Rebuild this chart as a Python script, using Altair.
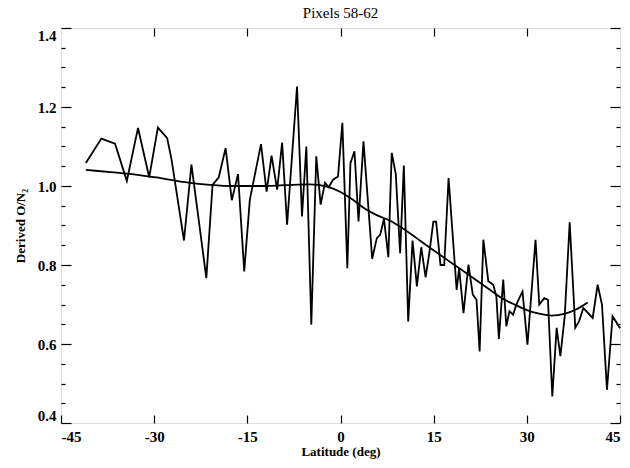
import altair as alt
import pandas as pd

# Observed (noisy) derived O/N2 along latitude
lat_obs = [-41.0, -38.5, -36.3, -34.4, -32.6, -30.8, -29.4, -27.9, -27.2, -25.2,
           -24.0, -21.6, -20.6, -19.6, -18.5, -17.5, -16.5, -15.5, -14.6, -12.8,
           -11.9, -11.1, -10.2, -9.4, -8.6, -7.0, -6.2, -5.5, -4.7, -3.9,
           -3.2, -2.5, -1.9, -1.2, -0.4, 0.3, 1.1, 1.6, 2.25, 2.9,
           3.7, 5.1, 5.85, 6.4, 7.0, 7.7, 8.25, 8.9, 9.6, 10.2,
           10.9, 11.6, 12.3, 13.0, 13.7, 14.3, 14.95, 15.4, 16.1, 16.7,
           17.4, 18.7, 19.1, 19.8, 20.6, 21.3, 21.9, 22.4, 23.0, 23.8,
           24.6, 25.1, 25.5, 26.2, 26.7, 27.2, 27.8, 28.3, 29.3, 30.1,
           31.4, 32.0, 32.8, 33.4, 34.1, 34.8, 35.4, 36.1, 36.9, 37.8,
           38.4, 39.1, 40.6, 41.4, 42.1, 42.9, 43.8, 44.5, 45.0]
on2_obs = [1.058, 1.120, 1.107, 1.013, 1.147, 1.022, 1.148, 1.121, 1.067, 0.862,
           1.054, 0.767, 1.003, 1.022, 1.096, 0.964, 1.030, 0.784, 0.965, 1.106,
           0.986, 1.077, 0.991, 1.110, 0.902, 1.252, 0.923, 1.100, 0.649, 1.075,
           0.953, 1.008, 0.997, 1.016, 1.024, 1.160, 0.792, 1.058, 1.088, 0.910,
           1.113, 0.816, 0.868, 0.877, 0.917, 0.820, 1.084, 1.030, 0.830, 1.052,
           0.657, 0.862, 0.746, 0.845, 0.769, 0.830, 0.910, 0.910, 0.800, 0.800,
           1.020, 0.737, 0.792, 0.678, 0.801, 0.725, 0.712, 0.581, 0.864, 0.759,
           0.750, 0.720, 0.613, 0.763, 0.645, 0.683, 0.674, 0.700, 0.733, 0.598,
           0.864, 0.700, 0.716, 0.712, 0.467, 0.641, 0.569, 0.670, 0.908, 0.641,
           0.657, 0.691, 0.666, 0.750, 0.700, 0.484, 0.670, 0.653, 0.640]

# Smooth fitted curve
lat_fit = [-41, -37, -33, -29, -25, -21, -17, -13, -9, -5, -2, 0, 2, 4, 6, 8,
           10, 12, 14, 16, 18, 20, 22, 24, 26, 28, 30, 32, 34, 36, 38, 39.8]
on2_fit = [1.041, 1.035, 1.029, 1.020, 1.010, 1.003, 1.000, 1.000, 1.002, 1.004,
           0.998, 0.985, 0.965, 0.942, 0.925, 0.912, 0.893, 0.871, 0.848, 0.826,
           0.804, 0.782, 0.760, 0.738, 0.716, 0.700, 0.686, 0.677, 0.672, 0.676,
           0.688, 0.705]

x_major = [-45, -30, -15, 0, 15, 30, 45]
x_top = [-30, -15, 0, 15, 30]
y_major = [0.4, 0.6, 0.8, 1.0, 1.2, 1.4]
y_all = [0.4, 0.45, 0.5, 0.55, 0.6, 0.65, 0.7, 0.75, 0.8, 0.85, 0.9, 0.95,
         1.0, 1.05, 1.1, 1.15, 1.2, 1.25, 1.3, 1.35, 1.4]

obs = pd.DataFrame({"lat": lat_obs, "on2": on2_obs})
fit = pd.DataFrame({"lat": lat_fit, "on2": on2_fit})

W, H = 559, 395
FONT = "Liberation Serif"
xs = alt.Scale(domain=[-45, 45], nice=False, zero=False)
ys = alt.Scale(domain=[0.4, 1.4], nice=False, zero=False)

major_test = "abs(datum.value*5 - round(datum.value*5)) < 0.01"
ytick_size = {"condition": {"test": major_test, "value": 10}, "value": 4}

# Layer 1: noisy line with labelled axes
l1 = alt.Chart(obs).mark_line(color="black", strokeWidth=1.8).encode(
    x=alt.X("lat:Q", scale=xs, axis=alt.Axis(
        orient="bottom", values=x_major, ticks=False, domain=False, grid=False,
        labelExpr="'' + datum.value", labelFont=FONT, labelFontWeight="bold",
        labelFontSize=15, labelColor="black", labelPadding=6,
        title="Latitude (deg)", titleFont=FONT, titleFontWeight="bold",
        titleFontSize=13, titleColor="black", titlePadding=1)),
    y=alt.Y("on2:Q", scale=ys, axis=alt.Axis(
        orient="left", values=y_major, ticks=False, domain=False, grid=False,
        format=".1f", labelFont=FONT, labelFontWeight="bold", labelFontSize=15,
        labelColor="black", labelPadding=5, labelFlush=True, labelFlushOffset=0,
        title="Derived O/N₂", titleFont=FONT, titleFontWeight="bold",
        titleFontSize=13, titleColor="black", titlePadding=10)),
)

# Layer 2: smooth fit, with inward ticks on bottom and left edges
l2 = alt.Chart(fit).mark_line(color="black", strokeWidth=1.8, interpolate="monotone").encode(
    x=alt.X("lat:Q", scale=xs, axis=alt.Axis(
        orient="top", offset=-H, values=x_major, labels=False, domain=False,
        grid=False, tickSize=8, tickWidth=1.2, tickColor="black", title=None)),
    y=alt.Y("on2:Q", scale=ys, axis=alt.Axis(
        orient="right", offset=-W, values=y_all, labels=False, domain=False,
        grid=False, tickSize=ytick_size, tickWidth=1.2, tickColor="black", title=None)),
)

# Layer 3: invisible points carrying the inward ticks on top and right edges
l3 = alt.Chart(obs).mark_point(opacity=0).encode(
    x=alt.X("lat:Q", scale=xs, axis=alt.Axis(
        orient="bottom", offset=-H, values=x_top, labels=False, domain=False,
        grid=False, tickSize=8, tickWidth=1.2, tickColor="black", title=None)),
    y=alt.Y("on2:Q", scale=ys, axis=alt.Axis(
        orient="left", offset=-W, values=y_all, labels=False, domain=False,
        grid=False, tickSize=ytick_size, tickWidth=1.2, tickColor="black", title=None)),
)

chart = alt.layer(l1, l2, l3).resolve_axis(x="independent", y="independent").properties(
    width=W, height=H,
    title=alt.TitleParams("Pixels 58-62", font=FONT, fontSize=15, fontWeight="normal",
                          color="black", anchor="middle", offset=6),
    autosize=alt.AutoSizeParams(type="none"),
    padding={"left": 61, "top": 28, "right": 10, "bottom": 45},
).configure_view(stroke="black", strokeWidth=2).configure(background="white")

chart.save("out.html", embed_options={"renderer": "svg", "actions": False})
